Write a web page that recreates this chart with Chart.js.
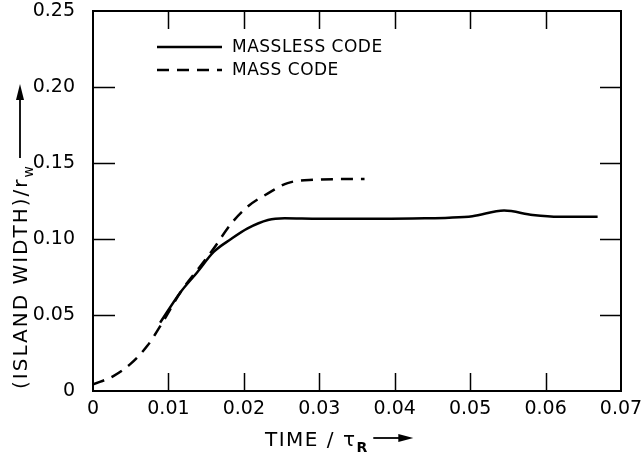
<!DOCTYPE html>
<html><head><meta charset="utf-8">
<script src="https://cdn.jsdelivr.net/npm/chart.js@4/dist/chart.umd.min.js"></script>
<style>html,body{margin:0;padding:0;background:#fff}</style>
</head><body>
<canvas id="c" width="642" height="458"></canvas>
<script>
// ---- data ----
const xTicks = [0, 0.01, 0.02, 0.03, 0.04, 0.05, 0.06, 0.07];
const yTicks = [0, 0.05, 0.10, 0.15, 0.20, 0.25];
const xTickLabels = ['0', '0.01', '0.02', '0.03', '0.04', '0.05', '0.06', '0.07'];
const yTickLabels = ['0', '0.05', '0.10', '0.15', '0.20', '0.25'];

const massTime  = [0, 0.0027, 0.0049, 0.0072, 0.0092, 0.0116, 0.0143, 0.0160, 0.0183, 0.0205, 0.0232, 0.0258, 0.0294, 0.0330, 0.0360];
const massWidth = [0.0043, 0.0098, 0.0175, 0.0297, 0.0450, 0.0650, 0.0826, 0.0937, 0.1100, 0.1213, 0.1300, 0.1368, 0.1390, 0.1394, 0.1394];

const masslessTime  = [0.0089, 0.0116, 0.0138, 0.0160, 0.0183, 0.0205, 0.0232, 0.0254, 0.0300, 0.0383, 0.0440, 0.0472, 0.0503, 0.0545, 0.0583, 0.0618, 0.0669];
const masslessWidth = [0.0450, 0.0650, 0.0780, 0.0915, 0.1000, 0.1070, 0.1125, 0.1136, 0.1133, 0.1133, 0.1136, 0.1140, 0.1150, 0.1187, 0.1158, 0.1146, 0.1147];

const legendLabels = ['MASSLESS CODE', 'MASS CODE'];
const xTitle = 'TIME / τ', xTitleSub = 'R';
const yTitle = '(ISLAND WIDTH)/r', yTitleSub = 'w';

const FONT = '"DejaVu Sans", "Liberation Sans", sans-serif';

function toXY(xs, ys) { return xs.map((x, i) => ({x: x, y: ys[i]})); }

const decor = {
  id: 'decor',
  afterDraw(chart) {
    const ctx = chart.ctx, a = chart.chartArea;
    const xs = chart.scales.x, ys = chart.scales.y;
    ctx.save();
    ctx.strokeStyle = '#000'; ctx.fillStyle = '#000';
    // frame
    ctx.lineWidth = 2;
    ctx.strokeRect(a.left, a.top, a.right - a.left, a.bottom - a.top);
    // inward ticks
    ctx.lineWidth = 1.5;
    ctx.beginPath();
    xTicks.slice(1, -1).forEach(v => {
      const px = Math.round(xs.getPixelForValue(v)) + 0.5;
      ctx.moveTo(px, a.bottom); ctx.lineTo(px, a.bottom - 18);
      ctx.moveTo(px, a.top); ctx.lineTo(px, a.top + 18);
    });
    yTicks.slice(1, -1).forEach(v => {
      const py = Math.round(ys.getPixelForValue(v)) + 0.5;
      ctx.moveTo(a.left, py); ctx.lineTo(a.left + 22, py);
      ctx.moveTo(a.right, py); ctx.lineTo(a.right - 21, py);
    });
    ctx.stroke();

    // legend
    ctx.lineWidth = 2.5;
    ctx.beginPath(); ctx.moveTo(157, 47); ctx.lineTo(222, 47); ctx.stroke();
    ctx.setLineDash([12, 8]);
    ctx.beginPath(); ctx.moveTo(157, 70); ctx.lineTo(222, 70); ctx.stroke();
    ctx.setLineDash([]);
    ctx.font = '17px ' + FONT;
    ctx.letterSpacing = '0.5px';
    ctx.textBaseline = 'middle'; ctx.textAlign = 'left';
    ctx.fillText(legendLabels[0], 232, 48);
    ctx.fillText(legendLabels[1], 232, 71);

    // x title
    ctx.textBaseline = 'alphabetic';
    ctx.font = '20px ' + FONT;
    ctx.letterSpacing = '1.5px';
    let x = 265, y = 446;
    ctx.fillText(xTitle, x, y);
    x += ctx.measureText(xTitle).width;
    ctx.font = 'bold 14px ' + FONT;
    ctx.letterSpacing = '0px';
    ctx.fillText(xTitleSub, x, y + 6);
    x += ctx.measureText(xTitleSub).width + 6;
    ctx.lineWidth = 1.8;
    ctx.beginPath(); ctx.moveTo(x, 438); ctx.lineTo(x + 28, 438); ctx.stroke();
    ctx.beginPath(); ctx.moveTo(x + 40, 438); ctx.lineTo(x + 25, 434); ctx.lineTo(x + 25, 442); ctx.closePath(); ctx.fill();

    // y title (rotated)
    ctx.save();
    ctx.translate(27, 389);
    ctx.rotate(-Math.PI / 2);
    ctx.font = '20px ' + FONT;
    ctx.letterSpacing = '2px';
    let t = 0;
    ctx.fillText(yTitle, t, 0);
    t += ctx.measureText(yTitle).width;
    ctx.font = '14px ' + FONT;
    ctx.letterSpacing = '0px';
    ctx.fillText(yTitleSub, t, 6);
    t += ctx.measureText(yTitleSub).width + 8;
    ctx.beginPath(); ctx.moveTo(t, -7); ctx.lineTo(t + 60, -7); ctx.stroke();
    ctx.beginPath(); ctx.moveTo(t + 74, -7); ctx.lineTo(t + 58, -11); ctx.lineTo(t + 58, -3); ctx.closePath(); ctx.fill();
    ctx.restore();

    ctx.restore();
  }
};

function noPad(s) { s.paddingTop = 0; s.paddingBottom = 0; s.paddingLeft = 0; s.paddingRight = 0; }

new Chart(document.getElementById('c'), {
  type: 'line',
  data: {
    datasets: [
      { label: legendLabels[0], data: toXY(masslessTime, masslessWidth), borderColor: '#000', borderWidth: 2.5,
        pointRadius: 0, fill: false, cubicInterpolationMode: 'monotone' },
      { label: legendLabels[1], data: toXY(massTime, massWidth), borderColor: '#000', borderWidth: 2.5,
        borderDash: [12, 8], pointRadius: 0, fill: false, cubicInterpolationMode: 'monotone' }
    ]
  },
  options: {
    responsive: false, animation: false, devicePixelRatio: 1,
    layout: { padding: { left: 0, right: 21, top: 11, bottom: 0 } },
    plugins: { legend: { display: false }, tooltip: { enabled: false } },
    scales: {
      x: {
        type: 'linear', min: 0, max: 0.07,
        afterBuildTicks: s => { s.ticks = xTicks.map(v => ({ value: v })); },
        afterFit: s => { s.height = 67; noPad(s); },
        grid: { display: false, drawTicks: false },
        border: { display: false },
        ticks: { color: '#000', font: { family: FONT, size: 19 }, padding: 7, maxRotation: 0,
          callback: v => xTickLabels[xTicks.findIndex(t => Math.abs(t - v) < 1e-9)] }
      },
      y: {
        type: 'linear', min: 0, max: 0.25,
        afterBuildTicks: s => { s.ticks = yTicks.map(v => ({ value: v })); },
        afterFit: s => { s.width = 93; noPad(s); },
        grid: { display: false, drawTicks: false },
        border: { display: false },
        ticks: { color: '#000', font: { family: FONT, size: 19 }, padding: 18,
          callback: v => yTickLabels[yTicks.findIndex(t => Math.abs(t - v) < 1e-9)] }
      }
    }
  },
  plugins: [decor]
});
</script>
</body></html>
